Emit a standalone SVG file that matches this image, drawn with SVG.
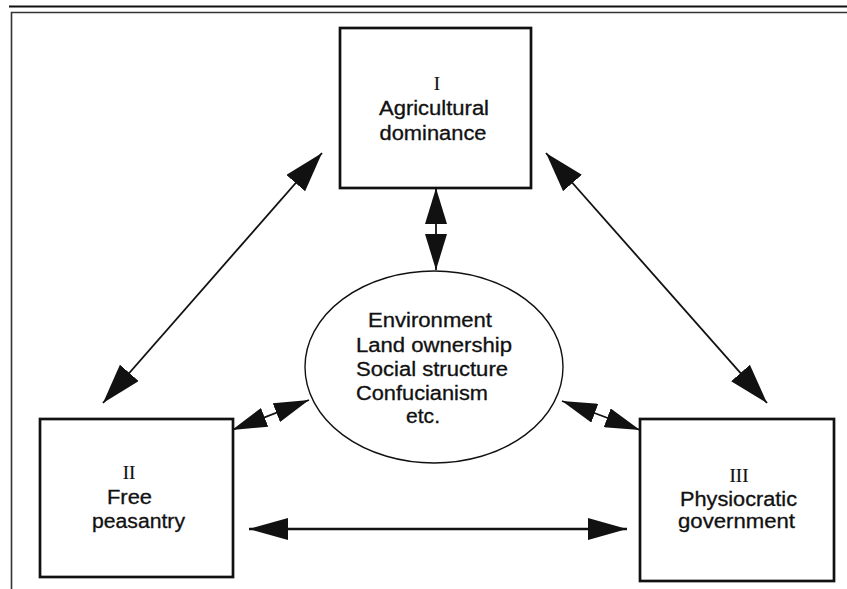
<svg xmlns="http://www.w3.org/2000/svg" width="847" height="589" viewBox="0 0 847 589">
  <style>
    .box { fill: #fff; stroke: #111; stroke-width: 2.7; }
    .ell { fill: #fff; stroke: #111; stroke-width: 1.4; }
    .lbl { font-family: "Liberation Sans", Arial, sans-serif; font-size: 19.5px; fill: #111; stroke: #111; stroke-width: 0.3; }
    .num { font-family: "Liberation Serif", "Times New Roman", serif; font-size: 19px; fill: #111; stroke: #111; stroke-width: 0.2; text-anchor: middle; }
    .mid { text-anchor: middle; }
    .link { stroke: #111; fill: none; }
  </style>
  <defs>
    <marker id="headL" markerUnits="userSpaceOnUse" markerWidth="40" markerHeight="25" refX="40" refY="12.5" orient="auto-start-reverse">
      <path d="M0,0 L40,12.5 L0,25 Z" fill="#111"/>
    </marker>
    <marker id="headH" markerUnits="userSpaceOnUse" markerWidth="39" markerHeight="22" refX="39" refY="11" orient="auto-start-reverse">
      <path d="M0,0 L39,11 L0,22 Z" fill="#111"/>
    </marker>
    <marker id="headV" markerUnits="userSpaceOnUse" markerWidth="36" markerHeight="22" refX="36" refY="11" orient="auto-start-reverse">
      <path d="M0,0 L36,11 L0,22 Z" fill="#111"/>
    </marker>
    <marker id="headS" markerUnits="userSpaceOnUse" markerWidth="35" markerHeight="20" refX="35" refY="10" orient="auto-start-reverse">
      <path d="M0,0 L35,10 L0,20 Z" fill="#111"/>
    </marker>
  </defs>

  <rect width="847" height="589" fill="#fff"/>

  <!-- page frame -->
  <g id="frame">
    <line x1="9" y1="6.5" x2="847" y2="6.5" stroke="#111" stroke-width="1.8"/>
    <path d="M11.5,589 V12.5 H847" fill="none" stroke="#333" stroke-width="1.6"/>
  </g>

  <!-- connectors -->
  <g id="connectors">
    <line class="link" x1="322" y1="153" x2="103" y2="403" stroke-width="1.8" marker-start="url(#headL)" marker-end="url(#headL)"/>
    <line class="link" x1="546" y1="153" x2="767" y2="403" stroke-width="1.8" marker-start="url(#headL)" marker-end="url(#headL)"/>
    <line class="link" x1="436" y1="188" x2="436" y2="270" stroke-width="1.8" marker-start="url(#headV)" marker-end="url(#headV)"/>
    <line class="link" x1="232" y1="430" x2="309" y2="400" stroke-width="1.8" marker-start="url(#headS)" marker-end="url(#headS)"/>
    <line class="link" x1="562" y1="401" x2="640" y2="430" stroke-width="1.8" marker-start="url(#headS)" marker-end="url(#headS)"/>
    <line class="link" x1="249" y1="529" x2="627" y2="529" stroke-width="2.4" marker-start="url(#headH)" marker-end="url(#headH)"/>
  </g>

  <!-- I: agricultural dominance -->
  <g id="node-agricultural">
    <rect class="box" x="340" y="28" width="191" height="160"/>
    <text class="num" x="437" y="90">I</text>
    <text class="lbl mid" x="434" y="115" textLength="110" lengthAdjust="spacingAndGlyphs">Agricultural</text>
    <text class="lbl mid" x="433" y="140" textLength="107" lengthAdjust="spacingAndGlyphs">dominance</text>
  </g>

  <!-- II: free peasantry -->
  <g id="node-peasantry">
    <rect class="box" x="40" y="419" width="193" height="158"/>
    <text class="num" x="129" y="479">II</text>
    <text class="lbl mid" x="129.5" y="504" textLength="45" lengthAdjust="spacingAndGlyphs">Free</text>
    <text class="lbl mid" x="138.5" y="528" textLength="93" lengthAdjust="spacingAndGlyphs">peasantry</text>
  </g>

  <!-- III: physiocratic government -->
  <g id="node-government">
    <rect class="box" x="640" y="419" width="194" height="162"/>
    <text class="num" x="739" y="482">III</text>
    <text class="lbl mid" x="738.5" y="506" textLength="117" lengthAdjust="spacingAndGlyphs">Physiocratic</text>
    <text class="lbl mid" x="736.5" y="528" textLength="117" lengthAdjust="spacingAndGlyphs">government</text>
  </g>

  <!-- central factors -->
  <g id="node-factors">
    <ellipse class="ell" cx="434" cy="367" rx="129" ry="96"/>
    <text class="lbl" x="368" y="327" textLength="124" lengthAdjust="spacingAndGlyphs">Environment</text>
    <text class="lbl" x="356" y="352" textLength="156" lengthAdjust="spacingAndGlyphs">Land ownership</text>
    <text class="lbl" x="356" y="376" textLength="152" lengthAdjust="spacingAndGlyphs">Social structure</text>
    <text class="lbl" x="356" y="400" textLength="132" lengthAdjust="spacingAndGlyphs">Confucianism</text>
    <text class="lbl" x="406" y="423" textLength="34" lengthAdjust="spacingAndGlyphs">etc.</text>
  </g>
</svg>
